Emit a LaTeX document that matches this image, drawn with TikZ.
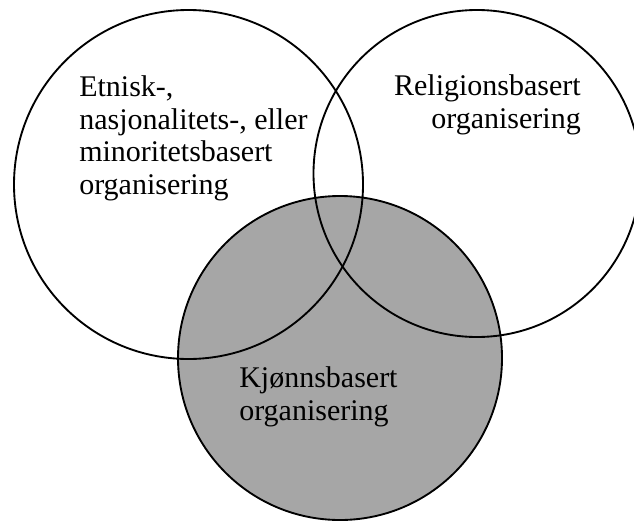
\documentclass[tikz,border=0pt]{standalone}
\usepackage{fontspec}
\setmainfont{Liberation Serif}
\definecolor{kjonngrey}{RGB}{166,166,166}

\begin{document}
\begin{tikzpicture}[x=0.75pt,y=0.75pt,yscale=-1,xscale=1]
\useasboundingbox (0,0) rectangle (634,521);

%Shape: Circle [id:kjonn fill]
\fill [kjonngrey] (340,358) circle (162) ;
%Shape: Circle [id:etnisk]
\draw [line width=1.4]  (188.5,184.5) circle (174.5) ;
%Shape: Circle [id:religion]
\draw [line width=1.4]  (477,173.5) circle (163.5) ;
%Shape: Circle [id:kjonn]
\draw [line width=1.4]  (340,358) circle (162) ;

% Text Node
\draw (79,75.5) node (etnisk) [anchor=north west][inner sep=0pt][align=left][font=\fontsize{22.5}{24.4}\selectfont]   {Etnisk-,\\nasjonalitets-, eller\\minoritetsbasert\\organisering};
% Text Node
\draw (581,74.5) node (religion) [anchor=north east][inner sep=0pt][align=right][font=\fontsize{22.5}{24.4}\selectfont]   {Religionsbasert\\organisering};
% Text Node
\draw (239,366.5) node (kjonn) [anchor=north west][inner sep=0pt][align=left][font=\fontsize{22.5}{24.4}\selectfont]   {Kjønnsbasert\\organisering};

\end{tikzpicture}
\end{document}
